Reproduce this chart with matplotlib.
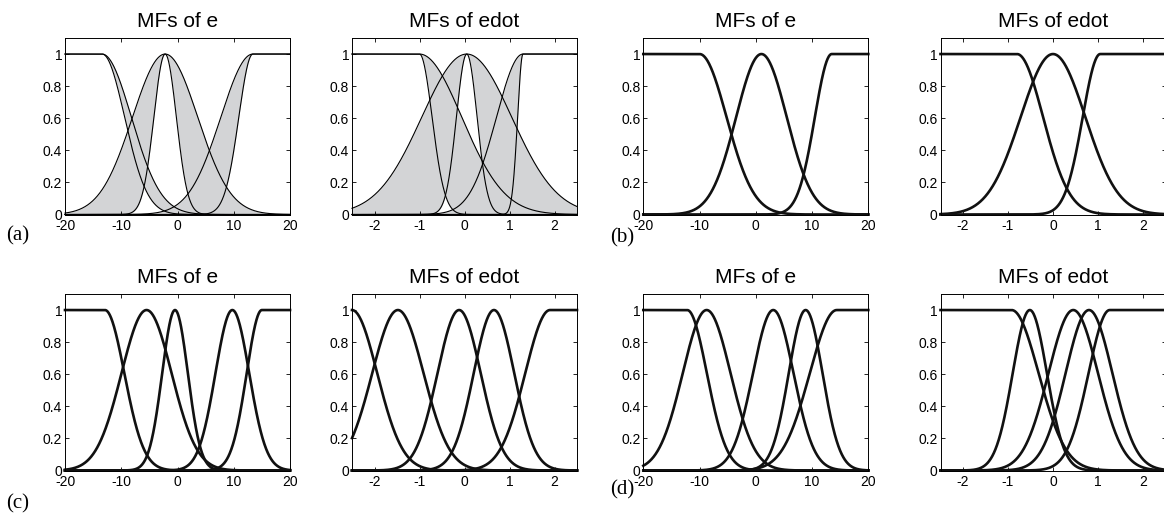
import numpy as np
import matplotlib
matplotlib.use("Agg")
import matplotlib.pyplot as plt

plt.rcParams["font.family"] = ["Liberation Sans", "DejaVu Sans"]
plt.rcParams["axes.unicode_minus"] = False

# x ranges of the two inputs
e_range = (-20, 20)
edot_range = (-2.5, 2.5)
e_ticks = [-20, -10, 0, 10, 20]
edot_ticks = [-2, -1, 0, 1, 2]
y_ticks = [0, 0.2, 0.4, 0.6, 0.8, 1]
y_ticklabels = ["0", "0.2", "0.4", "0.6", "0.8", "1"]

# kinds: L = left shoulder, G = gaussian, R = right shoulder
kinds3 = ["L", "G", "R"]
kinds5 = ["L", "G", "G", "G", "R"]

# (a) interval type-2 MFs: upper and lower sigma, shared centres
a_e_centers = [-13.4, -2.2, 13.4]
a_e_sigma_upper = [5.2, 5.8, 5.7]
a_e_sigma_lower = [4.0, 2.0, 2.5]
a_edot_centers = [-1.0, 0.05, 1.3]
a_edot_sigma_upper = [0.94, 1.0, 0.59]
a_edot_sigma_lower = [0.28, 0.23, 0.12]

# (b) three type-1 MFs
b_e_centers = [-10.0, 1.0, 13.5]
b_e_sigmas = [4.8, 4.5, 3.0]
b_edot_centers = [-0.8, 0.0, 1.05]
b_edot_sigmas = [0.58, 0.72, 0.39]

# (c) five type-1 MFs
c_e_centers = [-12.9, -5.5, -0.44, 9.75, 15.0]
c_e_sigmas = [3.45, 4.45, 2.28, 3.0, 2.7]
c_edot_centers = [-2.5, -1.48, -0.12, 0.655, 1.9]
c_edot_sigmas = [0.56, 0.57, 0.48, 0.45, 0.55]

# (d) five type-1 MFs
d_e_centers = [-12.2, -8.74, 3.1, 8.86, 14.4]
d_e_sigmas = [3.5, 4.25, 3.6, 3.0, 4.8]
d_edot_centers = [-0.92, -0.515, 0.45, 0.8, 1.26]
d_edot_sigmas = [0.6, 0.38, 0.55, 0.52, 0.47]


def mf(x, c, s, kind):
    y = np.exp(-((x - c) ** 2) / (2 * s ** 2))
    if kind == "L":
        y[x < c] = 1
    elif kind == "R":
        y[x > c] = 1
    return y


def style_axes(ax, xr, xticks, title):
    ax.set_xlim(*xr)
    ax.set_ylim(0, 1.1)
    ax.set_xticks(xticks)
    ax.set_xticklabels([str(t) for t in xticks])
    ax.set_yticks(y_ticks)
    ax.set_yticklabels(y_ticklabels)
    ax.tick_params(direction="in", top=True, right=True, length=3, width=0.6,
                   labelsize=10)
    ax.tick_params(axis="x", pad=3)
    ax.tick_params(axis="y", pad=2)
    for sp in ax.spines.values():
        sp.set_linewidth(0.7)
    ax.set_title(title, fontsize=15, pad=8)


def plot_type1(ax, xr, centers, sigmas, kinds):
    x = np.linspace(xr[0], xr[1], 1001)
    for c, s, k in zip(centers, sigmas, kinds):
        ax.plot(x, mf(x, c, s, k), color="#111111", lw=1.9, clip_on=False)


def plot_type2(ax, xr, centers, su, sl, kinds):
    x = np.linspace(xr[0], xr[1], 1001)
    for c, s1, s2, k in zip(centers, su, sl, kinds):
        upper = mf(x, c, s1, k)
        lower = mf(x, c, s2, k)
        ax.fill_between(x, lower, upper, color="#d3d4d6", lw=0, zorder=1)
    for c, s1, s2, k in zip(centers, su, sl, kinds):
        ax.plot(x, mf(x, c, s1, k), color="black", lw=0.8, zorder=3, clip_on=False)
        ax.plot(x, mf(x, c, s2, k), color="black", lw=0.8, zorder=3, clip_on=False)


W, H = 1164, 515
fig = plt.figure(figsize=(W / 100, H / 100), dpi=100)

lefts = [65, 352, 643.3, 940.5]
tops = [38, 294]
aw, ah = 225, 176.5


def make_ax(col, row):
    l = lefts[col]
    t = tops[row]
    return fig.add_axes([l / W, (H - t - ah) / H, aw / W, ah / H])


# (a)
ax = make_ax(0, 0)
plot_type2(ax, e_range, a_e_centers, a_e_sigma_upper, a_e_sigma_lower, kinds3)
style_axes(ax, e_range, e_ticks, "MFs of e")
ax = make_ax(1, 0)
plot_type2(ax, edot_range, a_edot_centers, a_edot_sigma_upper, a_edot_sigma_lower, kinds3)
style_axes(ax, edot_range, edot_ticks, "MFs of edot")

# (b)
ax = make_ax(2, 0)
plot_type1(ax, e_range, b_e_centers, b_e_sigmas, kinds3)
style_axes(ax, e_range, e_ticks, "MFs of e")
ax = make_ax(3, 0)
plot_type1(ax, edot_range, b_edot_centers, b_edot_sigmas, kinds3)
style_axes(ax, edot_range, edot_ticks, "MFs of edot")

# (c)
ax = make_ax(0, 1)
plot_type1(ax, e_range, c_e_centers, c_e_sigmas, kinds5)
style_axes(ax, e_range, e_ticks, "MFs of e")
ax = make_ax(1, 1)
plot_type1(ax, edot_range, c_edot_centers, c_edot_sigmas, kinds5)
style_axes(ax, edot_range, edot_ticks, "MFs of edot")

# (d)
ax = make_ax(2, 1)
plot_type1(ax, e_range, d_e_centers, d_e_sigmas, kinds5)
style_axes(ax, e_range, e_ticks, "MFs of e")
ax = make_ax(3, 1)
plot_type1(ax, edot_range, d_edot_centers, d_edot_sigmas, kinds5)
style_axes(ax, edot_range, edot_ticks, "MFs of edot")

# panel letters
serif = ["Liberation Serif", "DejaVu Serif"]
for lab, px, py in [("(a)", 18, 236), ("(b)", 622, 238), ("(c)", 18, 504), ("(d)", 622, 490)]:
    fig.text(px / W, 1 - py / H, lab, family=serif, fontsize=15,
             ha="center", va="center")

fig.savefig("out.png", dpi=100)
